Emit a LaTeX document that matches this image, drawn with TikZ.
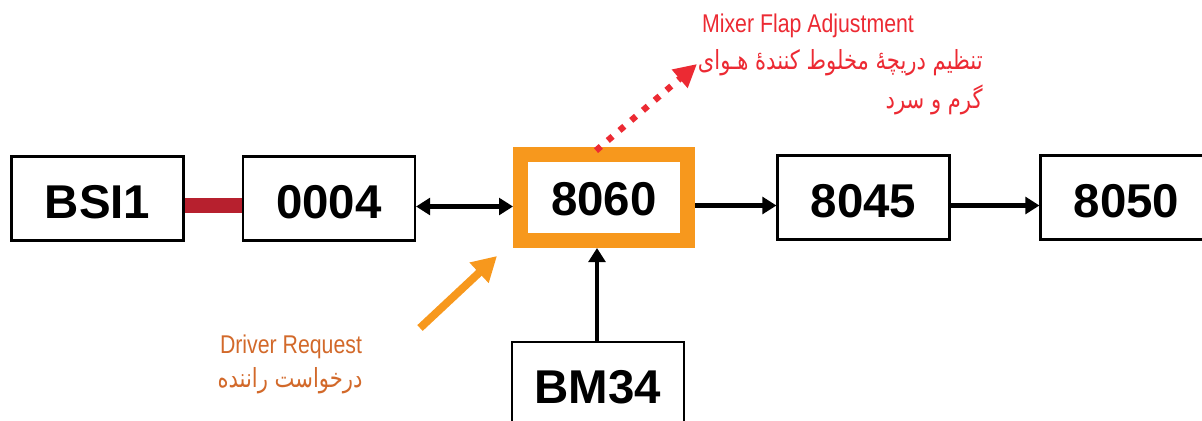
\documentclass[tikz,border=0pt]{standalone}
\usepackage{fontspec}
\setmainfont{Liberation Sans}
\newfontfamily\narrowfont[FakeStretch=0.83]{Liberation Sans}
\newfontfamily\farsifont[Script=Arabic,FakeStretch=0.8]{DejaVu Sans}
\TeXXeTstate=1
\usetikzlibrary{arrows.meta}
\definecolor{myorange}{HTML}{F7981D}
\definecolor{mybarred}{HTML}{B7202E}
\definecolor{myred}{HTML}{EC2A33}
\definecolor{mybrown}{HTML}{D2692A}
\tikzset{
	ecunode/.style={
			rectangle,
			draw=black,
			line width=1.2pt,
			fill=white,
			minimum width=3.44cm,
			minimum height=1.68cm,
			inner sep=0pt,
			text height=22.7pt,
			text depth=0pt,
			font=\fontsize{27}{27}\selectfont\bfseries
		},
	activenode/.style={
			ecunode,
			draw=myorange,
			line width=8.5pt,
			minimum width=3.34cm,
			minimum height=1.72cm,
			text height=20pt
		},
	buslink/.style={
			line width=2.8pt,
			-{Triangle[length=8pt,width=9.5pt]}
		},
	englabel/.style={
			inner sep=0pt,
			font=\narrowfont\fontsize{14.6}{14.6}\selectfont
		},
	farsilabel/.style={
			inner sep=0pt,
			font=\farsifont\fontsize{15}{15}\selectfont
		}
}
\begin{document}
\begin{tikzpicture}[x=0.02cm, y=-0.02cm]
\useasboundingbox (0,0) rectangle (1202,420);

\node[ecunode] (bsi) at (97.5,198.5) { BSI1 };
\node[ecunode] (n0004) at (329,198.5) { 0004 };
\node[activenode] (n8060) at (604,197.5) { 8060 };
\node[ecunode] (n8045) at (863.5,197.5) { 8045 };
\node[ecunode] (n8050) at (1126.5,197.5) { 8050 };
\node[ecunode] (bm34) at (598,384) { BM34 };

\node[englabel, text=myred] (mixer) at (808,26) {Mixer Flap Adjustment};
\node[farsilabel, text=myred, anchor=east] (mixerfa1) at (983,63) {\beginR تنظیم دریچهٔ مخلوط کنندهٔ هـوای\endR};
\node[farsilabel, text=myred, anchor=east] (mixerfa2) at (983,100) {\beginR گرم و سرد\endR};
\node[englabel, text=mybrown] (driver) at (291,347) {Driver Request};
\node[farsilabel, text=mybrown] (driverfa) at (290,381) {\beginR درخواست راننده\endR};

\coordinate (mixtip) at (697,64);
\coordinate (drvtail) at (420,328);
\coordinate (drvtip) at (497,256);

\draw[line width=8pt, mybarred] ([yshift=-0.14cm]bsi.east) -- ([yshift=-0.14cm]bsi.east -| n0004.west);
\draw[buslink, {Triangle[length=8pt,width=9.5pt]}-{Triangle[length=8pt,width=9.5pt]}]
([yshift=-0.16cm]n0004.east) -- ([yshift=-0.16cm]n0004.east -| n8060.west);
\draw[buslink] ([yshift=-0.16cm]n8060.east) -- ([yshift=-0.16cm]n8060.east -| n8045.west);
\draw[buslink] ([yshift=-0.16cm]n8045.east) -- ([yshift=-0.16cm]n8045.east -| n8050.west);
\draw[buslink] ([xshift=-0.02cm]bm34.north) -- ([xshift=-0.02cm]bm34.north |- n8060.south);

\draw[line width=3.6pt, myred, dash pattern=on 3.6pt off 5.2pt, -{Triangle[length=13pt,width=13pt]}]
([xshift=-0.16cm,yshift=-2pt]n8060.north) -- (mixtip);
\draw[line width=4.5pt, myorange, -{Triangle[length=14pt,width=15pt]}] (drvtail) -- (drvtip);
\end{tikzpicture}
\end{document}
